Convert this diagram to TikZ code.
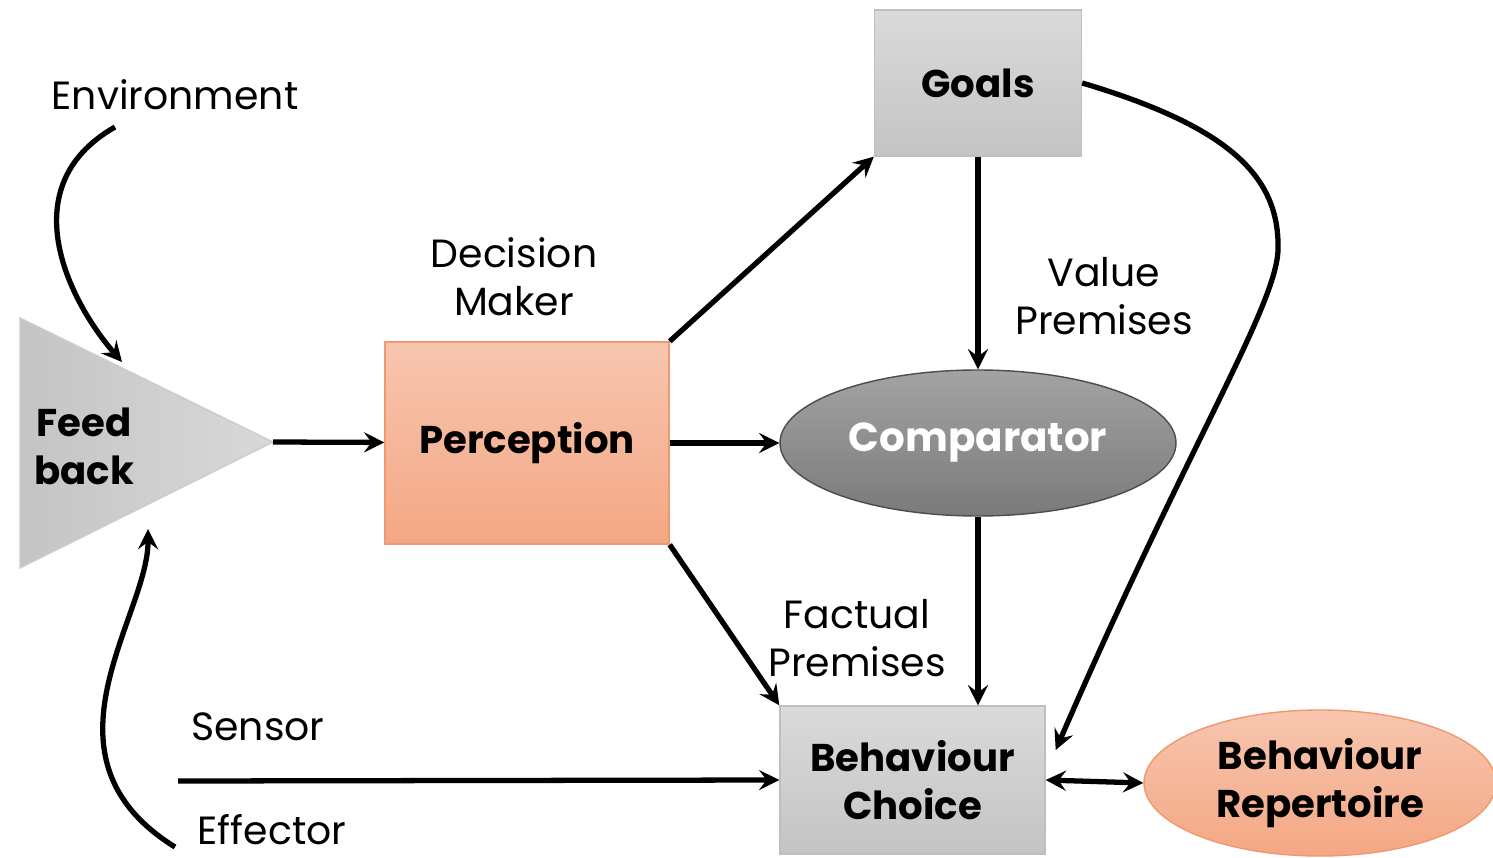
\documentclass[tikz,border=0pt]{standalone}
\usepackage{fontspec}
\setmainfont{Poppins}
\usetikzlibrary{shapes.geometric, arrows}
\definecolor{salmontop}{HTML}{F7C6AF}
\definecolor{salmonbot}{HTML}{F4A784}
\definecolor{salmonline}{HTML}{EE9A70}
\definecolor{greytop}{HTML}{DADADA}
\definecolor{greybot}{HTML}{C4C4C4}
\definecolor{darktop}{HTML}{A3A3A3}
\definecolor{darkbot}{HTML}{7A7A7A}
\tikzstyle{greybox} = [rectangle, minimum width=2.07cm, minimum height=1.46cm, inner sep=0pt, text centered, align=center, draw=black!25, top color=greytop, bottom color=greybot, font=\fontsize{11}{13.7}\selectfont\bfseries]
\tikzstyle{salmonbox} = [rectangle, minimum width=2.84cm, minimum height=2.02cm, inner sep=0pt, text centered, draw=salmonline, top color=salmontop, bottom color=salmonbot, font=\fontsize{11}{13.7}\selectfont\bfseries]
\tikzstyle{darkoval} = [ellipse, minimum width=3.96cm, minimum height=1.46cm, inner sep=0pt, text centered, draw=black!70, top color=darktop, bottom color=darkbot, text=white, font=\fontsize{11.5}{13.7}\selectfont\bfseries]
\tikzstyle{salmonoval} = [ellipse, minimum width=3.52cm, minimum height=1.46cm, inner sep=0pt, text centered, align=center, draw=salmonline, top color=salmontop, bottom color=salmonbot, font=\fontsize{11}{13.7}\selectfont\bfseries]
\tikzstyle{plaintext} = [align=center, inner sep=0pt, font=\fontsize{11.2}{13.7}\selectfont]
\tikzstyle{arrow} = [line width=1.5pt,->,>=stealth]
\tikzstyle{dblarrow} = [line width=1.5pt,<->,>=stealth]

\begin{document}
\begin{tikzpicture}[node distance=4.51cm]
\useasboundingbox (0,0) rectangle (14.93,8.57);

% feed back triangle
\draw [draw=black!20, left color=black!23, right color=black!15] (0.20,5.39) -- (0.20,2.89) -- (2.73,4.15) -- cycle;
\coordinate (fbtip) at (2.73,4.15);
\node (feed) [plaintext, font=\fontsize{11}{13.7}\selectfont\bfseries] at (0.84,4.11) {Feed\\back};

\node (perc) [salmonbox] at (5.27,4.14) {Perception};
\node (comp) [darkoval, right of=perc] {Comparator};
\node (goals) [greybox, above of=comp, node distance=3.6cm] {Goals};
\node (choice) [greybox, minimum width=2.65cm, minimum height=1.48cm] at (9.125,0.77) {Behaviour\\Choice};
\node (rep) [salmonoval] at (13.20,0.74) {Behaviour\\Repertoire};

\node (dm) [plaintext] at (5.14,5.80) {Decision\\Maker};
\node (vp) [plaintext] at (11.04,5.61) {Value\\Premises};
\node (fp) [plaintext] at (8.57,2.19) {Factual\\Premises};
\node (env) [plaintext] at (1.75,7.62) {Environment};
\node (sensor) [plaintext] at (2.58,1.30) {Sensor};
\node (effector) [plaintext] at (2.72,0.27) {Effector};

\coordinate (envstart) at (1.15,7.30);
\coordinate (effstart) at (1.75,0.10);
\coordinate (sensstart) at (1.78,0.76);

\draw [arrow] (fbtip) -- (perc);
\draw [arrow] (perc) -- (comp);
\draw [arrow] (perc.north east) -- (goals.south west);
\draw [arrow] (perc.south east) -- (choice.north west);
\draw [arrow] (goals) -- (comp);
\draw [arrow] (comp.south) -- (comp.south |- choice.north);
\draw [arrow] (sensstart) -- (choice.west);
\draw [dblarrow] (choice.east) -- (rep.west);
\draw [arrow] (envstart) .. controls (0.1,6.7) and (0.7,5.55) .. (1.22,4.95);
\draw [arrow] (effstart) .. controls (0.3,1.0) and (1.48,2.4) .. (1.48,3.28);
\draw [arrow] (goals.east) .. controls (12.3,7.3) and (12.8,6.8) .. (12.78,6.07)
  .. controls (12.76,5.5) and (11.87,4.1) .. ([shift={(0.1,0.3)}]choice.east);

\end{tikzpicture}
\end{document}
